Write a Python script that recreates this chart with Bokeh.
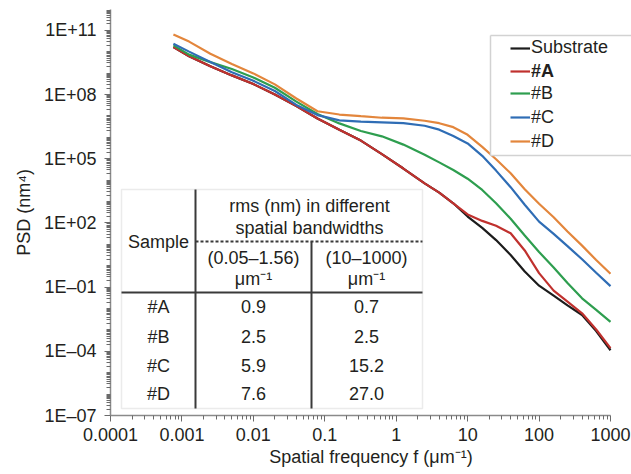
from bokeh.plotting import figure
from bokeh.models import (FixedTicker, CustomJSTickFormatter, Legend, LegendItem,
                          Label, BoxAnnotation, Arrow, Range1d, Title)
from bokeh.embed import file_html
from bokeh.resources import INLINE

# ---------------- data ----------------
freq = [0.00076, 0.00126, 0.0025, 0.005, 0.01, 0.02, 0.04, 0.079, 0.16, 0.32,
        0.63, 1.26, 2.5, 4.0, 6.3, 10, 16, 25, 40, 63, 100, 160, 250, 400, 630, 1000]

psd_substrate = [1.66e10, 6.2e9, 2.1e9, 7.9e8, 3.1e8, 1.02e8, 2.9e7, 7.6e6, 2.3e6, 7.1e5,
                 1.66e5, 3.5e4, 7.1e3, 2.6e3, 830, 200, 59, 15.8, 3.2, 0.54,
                 0.117, 0.040, 0.014, 0.0050, 0.00089, 0.000112]
psd_A = [1.66e10, 6.2e9, 2.1e9, 7.9e8, 3.1e8, 1.02e8, 2.9e7, 7.6e6, 2.3e6, 7.1e5,
         1.66e5, 3.5e4, 7.1e3, 2.6e3, 830, 250, 125, 74, 33, 5.2,
         0.45, 0.069, 0.021, 0.0060, 0.00105, 0.00014]
psd_B = [2.0e10, 7.4e9, 3.3e9, 1.58e9, 6.3e8, 2.1e8, 4.7e7, 1.23e7, 4.5e6, 2.0e6,
         1.12e6, 4.6e5, 1.55e5, 6.8e4, 3.0e4, 1.17e4, 3.5e3, 830, 158, 26,
         4.4, 0.83, 0.155, 0.030, 0.0087, 0.0024]
psd_C = [2.4e10, 1.02e10, 3.3e9, 1.12e9, 4.4e8, 1.48e8, 3.3e7, 1.1e7, 6.2e6, 5.4e6,
         5.0e6, 4.6e6, 3.5e6, 2.3e6, 1.15e6, 5.2e5, 1.38e5, 2.8e4, 4.7e3, 710,
         115, 31, 8.3, 2.0, 0.47, 0.112]
psd_D = [6.5e10, 3.0e10, 8.1e9, 2.7e9, 9.8e8, 3.0e8, 6.6e7, 1.66e7, 1.17e7, 9.8e6,
         8.3e6, 7.8e6, 6.0e6, 4.6e6, 3.0e6, 1.32e6, 3.6e5, 9.5e4, 2.1e4, 3.8e3,
         790, 186, 40, 8.7, 1.86, 0.42]

series_names = ["Substrate", "#A", "#B", "#C", "#D"]
series_values = [psd_substrate, psd_A, psd_B, psd_C, psd_D]
series_colors = ["#1c1c1c", "#c0312e", "#2e9e4f", "#2f6db5", "#e3863c"]

xtick_vals = [1e-4, 1e-3, 1e-2, 1e-1, 1, 10, 100, 1000]
xtick_labels = ["0.0001", "0.001", "0.01", "0.1", "1", "10", "100", "1000"]
ytick_vals = [1e-7, 1e-4, 1e-1, 1e2, 1e5, 1e8, 1e11]
ytick_labels = ["1E\u201307", "1E\u201304", "1E\u201301", "1E+02", "1E+05", "1E+08", "1E+11"]

table_title = ["rms (nm) in different", "spatial bandwidths"]
table_sample_header = "Sample"
band_headers = [["(0.05\u20131.56)", "\u03bcm\u207b\u00b9"], ["(10\u20131000)", "\u03bcm\u207b\u00b9"]]
table_samples = ["#A", "#B", "#C", "#D"]
rms_band1 = [0.9, 2.5, 5.9, 7.6]
rms_band2 = [0.7, 2.5, 15.2, 27.0]

FONT = "Liberation Sans"
TXT = "#231f20"
FS = "18px"

# frame runs to the right page edge; the x axis line itself stops at 1000
p = figure(width=631, height=474, x_axis_type="log", y_axis_type="log",
           x_range=Range1d(1e-4, 1968), y_range=Range1d(1e-7, 9.5e11),
           output_backend="svg", toolbar_location=None,
           min_border_left=110, min_border_right=0, min_border_top=9, min_border_bottom=59)
p.outline_line_color = None
p.grid.visible = False
p.background_fill_color = "white"
p.border_fill_color = "white"

renderers = []
for name, vals, col in zip(series_names, series_values, series_colors):
    r = p.line(freq, vals, line_color=col, line_width=2.2)
    renderers.append((name, r))

# axes
fmt_code = """
const lt = Math.log10(tick);
for (let i = 0; i < vals.length; i++) {
  if (Math.abs(Math.log10(vals[i]) - lt) < 1e-6) return labs[i];
}
return "";
"""
xminor = [k * 10.0 ** d for d in range(-4, 3) for k in range(2, 10)]
yminor = [k * 10.0 ** d for d in range(-7, 12) for k in range(1, 10)
          if not (k == 1 and (d + 7) % 3 == 0)]
p.xaxis.ticker = FixedTicker(ticks=xtick_vals, minor_ticks=xminor)
p.yaxis.ticker = FixedTicker(ticks=ytick_vals, minor_ticks=yminor)
p.xaxis.formatter = CustomJSTickFormatter(args=dict(vals=xtick_vals, labs=xtick_labels), code=fmt_code)
p.yaxis.formatter = CustomJSTickFormatter(args=dict(vals=ytick_vals, labs=ytick_labels), code=fmt_code)
p.xaxis.bounds = (xtick_vals[0], xtick_vals[-1])

for ax in (p.xaxis[0], p.yaxis[0]):
    ax.axis_line_color = "#8a8a8a"
    ax.axis_line_width = 1.5
    ax.major_tick_line_color = "#6a6a6a"
    ax.minor_tick_line_color = "#6a6a6a"
    ax.major_tick_in = 0
    ax.major_tick_out = 6
    ax.minor_tick_in = 0
    ax.minor_tick_out = 4
    ax.major_label_text_font = FONT
    ax.major_label_text_font_size = FS
    ax.major_label_text_color = TXT
p.xaxis.major_label_standoff = 6
p.yaxis.major_label_standoff = 8

# axis titles, placed like the reference (x centred under the axis line, y shifted up)
p.add_layout(Title(text="Spatial frequency f (\u03bcm\u207b\u00b9)", align="center",
                   offset=34.5, standoff=3,
                   text_font=FONT, text_font_size=FS, text_font_style="normal",
                   text_color=TXT), "below")
p.add_layout(Title(text="PSD (nm\u2074)", align="center", offset=61, standoff=14,
                   text_font=FONT, text_font_size=FS, text_font_style="normal",
                   text_color=TXT), "left")

def sx(px):
    return px - 110
def sy(py):
    return 415 - py

def seg(x0, y0, x1, y1, color="#3a3a3a", width=2, dash="solid"):
    p.add_layout(Arrow(start=None, end=None, x_start=sx(x0), y_start=sy(y0),
                       x_end=sx(x1), y_end=sy(y1), start_units="screen", end_units="screen",
                       line_color=color, line_width=width, line_dash=dash))

# legend box (open on the right, running off the page) + legends
p.add_layout(BoxAnnotation(left=sx(490), right=sx(660), bottom=sy(155), top=sy(35),
                           left_units="screen", right_units="screen",
                           bottom_units="screen", top_units="screen",
                           fill_color="white", fill_alpha=1.0, line_color=None))
seg(490, 35, 660, 35, color="#d2d2d2", width=1.5)
seg(490, 35, 490, 155, color="#d2d2d2", width=1.5)
seg(490, 155, 660, 155, color="#d2d2d2", width=1.5)

legend_rows = [[0], [1], [2, 3, 4]]
legend_bottoms = [58.3, 81.7, 151.7]
for rows, bot in zip(legend_rows, legend_bottoms):
    lg = Legend(items=[LegendItem(label=renderers[i][0], renderers=[renderers[i][1]]) for i in rows],
                location=(sx(510), sy(bot)), padding=0, spacing=3, margin=0,
                label_height=20, glyph_height=20, glyph_width=20, label_standoff=1,
                label_text_font=FONT, label_text_font_size=FS, label_text_color=TXT,
                label_text_font_style="bold" if rows == [1] else "normal",
                border_line_color=None, background_fill_alpha=0)
    p.add_layout(lg)

# table (positions in pixels relative to the plot frame)
p.add_layout(BoxAnnotation(left=sx(121), right=sx(422), bottom=sy(408), top=sy(189),
                           left_units="screen", right_units="screen",
                           bottom_units="screen", top_units="screen",
                           fill_color="white", fill_alpha=1.0,
                           line_color="#bdbdbd", line_width=1.5))

seg(195, 189, 195, 408)
seg(311, 241, 311, 408)
seg(195, 241, 422, 241, dash="3 2")
seg(121, 292, 422, 292)

def txt(x, y, s):
    p.add_layout(Label(x=sx(x), y=sy(y), x_units="screen", y_units="screen", text=s,
                       text_align="center", text_baseline="middle",
                       text_font=FONT, text_font_size=FS, text_color=TXT))

txt(309, 205, table_title[0])
txt(309, 227, table_title[1])
txt(158, 241, table_sample_header)
txt(253, 257, band_headers[0][0])
txt(253, 278, band_headers[0][1])
txt(366, 257, band_headers[1][0])
txt(366, 278, band_headers[1][1])
row_y = [306, 336, 365, 393]
for yy, s, v1, v2 in zip(row_y, table_samples, rms_band1, rms_band2):
    txt(158, yy, s)
    txt(253, yy, f"{v1:.1f}")
    txt(366, yy, f"{v2:.1f}")

open("out.html", "w").write(file_html(p, INLINE))
